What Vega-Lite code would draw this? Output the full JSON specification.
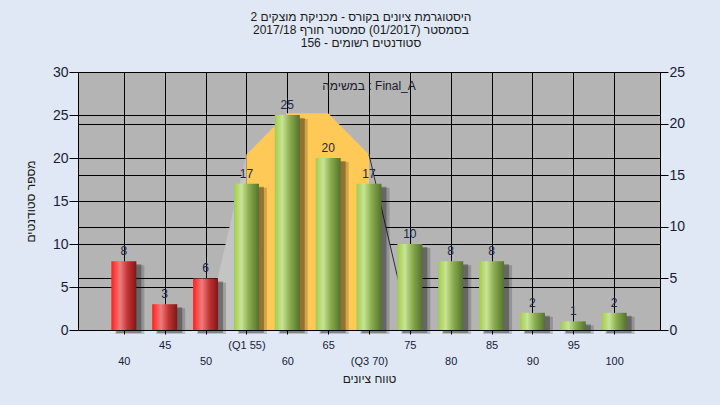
{
  "$schema": "https://vega.github.io/schema/vega-lite/v6.json",
  "width": 582,
  "height": 258,
  "autosize": {"type": "none"},
  "padding": {"left": 78, "top": 72, "right": 60, "bottom": 75},
  "background": "#dfe8f4",
  "title": {
    "text": ["היסטוגרמת ציונים בקורס - מכניקת מוצקים 2", "בסמסטר  (01/2017)  סמסטר חורף 2017/18", "סטודנטים רשומים - 156"],
    "font": "Liberation Sans",
    "fontSize": 12,
    "fontWeight": "normal",
    "color": "#1a1a1a",
    "anchor": "middle",
    "frame": "group",
    "offset": 15,
    "dx": -8,
    "lineHeight": 13
  },
  "config": {
    "view": {"fill": "#b4b4b4", "stroke": "#000000", "strokeWidth": 1},
    "axis": {
      "domainColor": "#000000",
      "tickColor": "#000000",
      "gridColor": "#000000",
      "gridOpacity": 1,
      "gridWidth": 1,
      "labelFont": "Liberation Sans",
      "labelColor": "#1a1a3a",
      "titleFont": "Liberation Sans",
      "titleColor": "#1a1a1a",
      "titleFontWeight": "normal",
      "titleFontSize": 12
    }
  },
  "datasets": {
    "grades": [
      {"grade": 40, "count": 8, "status": "fail"},
      {"grade": 45, "count": 3, "status": "fail"},
      {"grade": 50, "count": 6, "status": "fail"},
      {"grade": 55, "count": 17, "status": "pass"},
      {"grade": 60, "count": 25, "status": "pass"},
      {"grade": 65, "count": 20, "status": "pass"},
      {"grade": 70, "count": 17, "status": "pass"},
      {"grade": 75, "count": 10, "status": "pass"},
      {"grade": 80, "count": 8, "status": "pass"},
      {"grade": 85, "count": 8, "status": "pass"},
      {"grade": 90, "count": 2, "status": "pass"},
      {"grade": 95, "count": 1, "status": "pass"},
      {"grade": 100, "count": 2, "status": "pass"}
    ],
    "curve": [
      {"grade": 50, "count": 0, "part": "left"},
      {"grade": 55, "count": 17, "part": "left"},
      {"grade": 55, "count": 17, "part": "core"},
      {"grade": 60, "count": 21, "part": "core"},
      {"grade": 65, "count": 21, "part": "core"},
      {"grade": 70, "count": 17, "part": "core"},
      {"grade": 70, "count": 17, "part": "right"},
      {"grade": 75, "count": 0, "part": "right"}
    ],
    "note": [{"grade": 70, "count": 28.4, "label": "במשימה : Final_A"}]
  },
  "layer": [
    {
      "data": {"name": "curve"},
      "layer": [
        {
          "mark": {"type": "area"},
          "encoding": {
            "x": {
              "field": "grade",
              "type": "quantitative",
              "scale": {"domain": [35, 105], "nice": false, "zero": false},
              "axis": {
                "values": [40, 45, 50, 55, 60, 65, 70, 75, 80, 85, 90, 95, 100],
                "grid": true,
                "tickSize": 4,
                "labelFontSize": 11,
                "labelPadding": 5,
                "labelLineHeight": 16,
                "labelOverlap": false,
                "labelFlush": false,
                "labelExpr": "datum.value == 55 ? '(Q1 55)' : datum.value == 70 ? ['', '(Q3 70)'] : datum.value % 10 == 0 ? ['', datum.label] : datum.label",
                "title": "טווח ציונים",
                "titlePadding": 7
              }
            },
            "y": {
              "field": "count",
              "type": "quantitative",
              "stack": null,
              "scale": {"domain": [0, 25], "nice": false},
              "axis": {
                "orient": "right",
                "values": [0, 5, 10, 15, 20, 25],
                "grid": true,
                "tickSize": 8,
                "labelPadding": 1,
                "labelFontSize": 14,
                "title": null
              }
            },
            "color": {
              "field": "part",
              "type": "nominal",
              "scale": {"domain": ["left", "core", "right"], "range": ["#c4c4c4", "#ffc957", "#b4b4b4"]},
              "legend": null
            }
          }
        },
        {
          "transform": [{"filter": "datum.part == 'right'"}],
          "mark": {"type": "line", "color": "#2e2e2e", "strokeWidth": 1},
          "encoding": {
            "x": {"field": "grade", "type": "quantitative"},
            "y": {"field": "count", "type": "quantitative"}
          }
        }
      ]
    },
    {
      "data": {"name": "grades"},
      "layer": [
        {
          "mark": {"type": "bar", "width": 29, "xOffset": 6, "yOffset": 4, "color": "#000000", "opacity": 0.18},
          "encoding": {
            "x": {"field": "grade", "type": "quantitative"},
            "y": {
              "field": "count",
              "type": "quantitative",
              "scale": {"domain": [0, 30], "nice": false},
              "axis": {
                "orient": "left",
                "values": [0, 5, 10, 15, 20, 25, 30],
                "grid": true,
                "tickSize": 9,
                "labelPadding": 1,
                "labelFontSize": 14,
                "title": "מספר סטודנטים",
                "titlePadding": 15
              }
            }
          }
        },
        {
          "mark": {"type": "bar", "width": 25, "xOffset": 5, "yOffset": 3, "color": "#000000", "opacity": 0.3},
          "encoding": {
            "x": {"field": "grade", "type": "quantitative"},
            "y": {"field": "count", "type": "quantitative"}
          }
        },
        {
          "transform": [{"filter": "datum.status == 'fail'"}],
          "mark": {
            "type": "bar",
            "width": 25,
            "color": {
              "gradient": "linear", "x1": 0, "x2": 1, "y1": 0, "y2": 0,
              "stops": [
                {"offset": 0, "color": "#ff1e1e"},
                {"offset": 0.35, "color": "#f07c7c"},
                {"offset": 0.65, "color": "#c23434"},
                {"offset": 1, "color": "#7e1717"}
              ]
            }
          },
          "encoding": {
            "x": {"field": "grade", "type": "quantitative"},
            "y": {"field": "count", "type": "quantitative"}
          }
        },
        {
          "transform": [{"filter": "datum.status == 'pass'"}],
          "mark": {
            "type": "bar",
            "width": 25,
            "color": {
              "gradient": "linear", "x1": 0, "x2": 1, "y1": 0, "y2": 0,
              "stops": [
                {"offset": 0, "color": "#a2cb4e"},
                {"offset": 0.3, "color": "#c8e494"},
                {"offset": 0.6, "color": "#8aad50"},
                {"offset": 1, "color": "#55722c"}
              ]
            }
          },
          "encoding": {
            "x": {"field": "grade", "type": "quantitative"},
            "y": {"field": "count", "type": "quantitative"}
          }
        },
        {
          "mark": {"type": "text", "baseline": "alphabetic", "dy": -6, "fontSize": 12, "font": "Liberation Sans", "color": "#1c2648"},
          "encoding": {
            "x": {"field": "grade", "type": "quantitative"},
            "y": {"field": "count", "type": "quantitative"},
            "text": {"field": "count", "type": "quantitative"}
          }
        },
        {
          "data": {"name": "note"},
          "mark": {"type": "text", "baseline": "middle", "fontSize": 12, "font": "Liberation Sans", "color": "#1a1a2a"},
          "encoding": {
            "x": {"field": "grade", "type": "quantitative"},
            "y": {"field": "count", "type": "quantitative"},
            "text": {"field": "label", "type": "nominal"}
          }
        }
      ]
    }
  ],
  "resolve": {"scale": {"y": "independent"}}
}
